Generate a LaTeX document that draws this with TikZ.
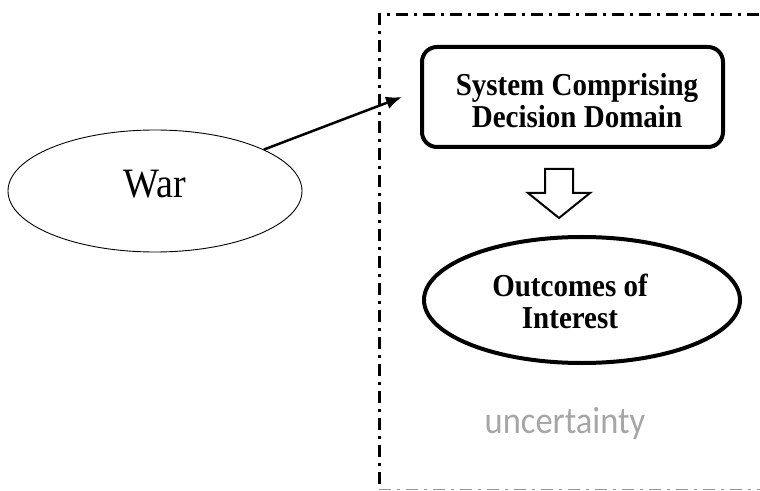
\documentclass[tikz,border=0pt]{standalone}
\usepackage{fontspec}
\usepackage{graphicx}
\setmainfont{Liberation Serif}
\newfontfamily\uncfont{Carlito}
\usetikzlibrary{shapes.geometric,arrows.meta}
\definecolor{unccol}{RGB}{166,166,166}
\definecolor{bottomcol}{RGB}{150,150,150}
\newcommand{\vstretch}[1]{\scalebox{1}[1.1]{#1}}
\tikzset{
  border/.style={line width=3bp, dash pattern=on 12bp off 6bp on 3bp off 6bp},
  warshape/.style={ellipse, draw, line width=0.9bp, minimum width=294bp, minimum height=122bp, inner sep=0pt},
  sysbox/.style={rectangle, draw, line width=4bp, rounded corners=15bp, minimum width=301bp, minimum height=100bp, inner sep=0pt},
  outshape/.style={ellipse, draw, line width=4bp, minimum width=316bp, minimum height=126bp, inner sep=0pt},
  lbl/.style={anchor=base, inner sep=0pt},
  hollow/.style={draw, fill=white, line width=2bp, line join=miter},
  conn/.style={line width=2.5bp, -{Latex[length=16bp,width=13bp]}}
}
\begin{document}
\begin{tikzpicture}[x=1bp,y=-1bp]
\useasboundingbox (0,0) rectangle (760,491);
% boundary
\coordinate (tl) at (379,15);
\coordinate (tr) at (762,15);
\coordinate (bl) at (379,484);
\coordinate (b0) at (379,489.5);
\coordinate (br) at (762,489.5);
\draw[border] (bl) -- (tl) -- (tr);
\draw[border, line width=1.5bp, draw=bottomcol] (b0) -- (br);
% shapes
\node[warshape] (war) at (155,191) {};
\node[sysbox] (sys) at (572.5,97) {};
\node[outshape] (out) at (582,300) {};
% texts
\node[lbl] (wartext) at (155,198) {\vstretch{\fontsize{38bp}{40bp}\selectfont War}};
\node[lbl] (systext) at (577,96) {\vstretch{\fontsize{29bp}{27.3bp}\selectfont\bfseries\begin{tabular}[t]{@{}c@{}}System Comprising\\Decision Domain\end{tabular}}};
\node[lbl] (outtext) at (570,297) {\vstretch{\fontsize{29bp}{29bp}\selectfont\bfseries\begin{tabular}[t]{@{}c@{}}Outcomes of\\Interest\end{tabular}}};
\node[lbl, text=unccol] (unc) at (565,433) {\vstretch{\uncfont\fontsize{34.5bp}{40bp}\selectfont uncertainty}};
% connector
\coordinate (tip) at (402,97);
\draw[conn] (war) -- (tip);
% hollow block arrow
\draw[hollow] (545,169) -- (573,169) -- (573,193) -- (590,193) -- (559,218) -- (528,193) -- (545,193) -- cycle;
\end{tikzpicture}
\end{document}
